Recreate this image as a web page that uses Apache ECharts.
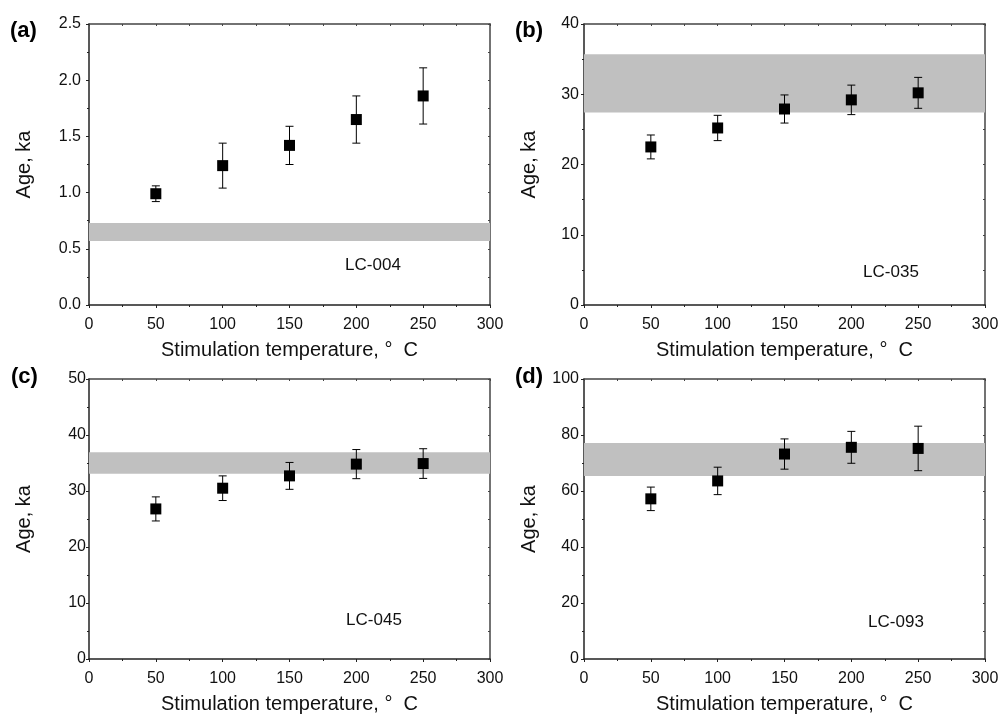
<!DOCTYPE html>
<html>
<head>
<meta charset="utf-8">
<script src="https://cdn.jsdelivr.net/npm/echarts@6/dist/echarts.min.js"></script>
<style>
html,body{margin:0;padding:0;background:#fff;}
#chart{width:1003px;height:718px;}
</style>
</head>
<body>
<div id="chart"></div>
<script>
// ---- data ----
var temps = [50, 100, 150, 200, 250];
var xTicks = [0, 50, 100, 150, 200, 250, 300];

var ageA = [0.99, 1.24, 1.42, 1.65, 1.86];
var errA = [0.07, 0.20, 0.17, 0.21, 0.25];
var bandA = [0.57, 0.73];

var ageB = [22.5, 25.2, 27.9, 29.2, 30.2];
var errB = [1.7, 1.8, 2.0, 2.1, 2.2];
var bandB = [27.4, 35.7];

var ageC = [26.8, 30.5, 32.7, 34.8, 34.9];
var errC = [2.15, 2.2, 2.4, 2.6, 2.65];
var bandC = [33.1, 36.9];

var ageD = [57.2, 63.6, 73.2, 75.6, 75.2];
var errD = [4.2, 4.9, 5.4, 5.7, 7.95];
var bandD = [65.4, 77.1];

var panelLetters = ['(a)', '(b)', '(c)', '(d)'];
var sampleNames = ['LC-004', 'LC-035', 'LC-045', 'LC-093'];
var yTicksA = [0, 0.5, 1.0, 1.5, 2.0, 2.5];
var yTicksB = [0, 10, 20, 30, 40];
var yTicksC = [0, 10, 20, 30, 40, 50];
var yTicksD = [0, 20, 40, 60, 80, 100];

var xTitle = 'Stimulation temperature, \u00b0  C';
var yTitle = 'Age, ka';

// ---- layout ----
var FONT = 'Liberation Sans, Arial, Helvetica, sans-serif';
var panels = [
  {age: ageA, err: errA, band: bandA, yt: yTicksA, dec: 1, grid: {left: 89, top: 24, width: 401, height: 281}, ygap: 55, ymargin: 8,
   letter: [10, 31], label: [373, 265]},
  {age: ageB, err: errB, band: bandB, yt: yTicksB, dec: 0, grid: {left: 584, top: 24, width: 401, height: 281}, ygap: 45, ymargin: 5,
   letter: [515, 31], label: [891, 272]},
  {age: ageC, err: errC, band: bandC, yt: yTicksC, dec: 0, grid: {left: 89, top: 379, width: 401, height: 280}, ygap: 55, ymargin: 3,
   letter: [11, 377], label: [374, 620]},
  {age: ageD, err: errD, band: bandD, yt: yTicksD, dec: 0, grid: {left: 584, top: 379, width: 401, height: 280}, ygap: 45, ymargin: 5,
   letter: [515, 377], label: [896, 622]}
];

var grids = [], xAxes = [], yAxes = [], series = [], graphics = [];
var axisColor = '#222';

panels.forEach(function (p, i) {
  grids.push(Object.assign({containLabel: false}, p.grid));
  var xmin = xTicks[0], xmax = xTicks[xTicks.length - 1], xint = xTicks[1] - xTicks[0];
  var ymin = p.yt[0], ymax = p.yt[p.yt.length - 1], yint = p.yt[1] - p.yt[0];
  // bottom x
  xAxes.push({
    gridIndex: i, type: 'value', position: 'bottom', min: xmin, max: xmax, interval: xint,
    name: xTitle, nameLocation: 'middle', nameGap: 35,
    nameTextStyle: {fontFamily: FONT, fontSize: 20, color: '#111'},
    axisLine: {show: true, onZero: false, lineStyle: {color: axisColor, width: 1.5}},
    axisTick: {show: true, inside: false, length: 3, lineStyle: {color: axisColor}},
    minorTick: {show: true, splitNumber: 2, length: 2, lineStyle: {color: axisColor}},
    axisLabel: {fontFamily: FONT, fontSize: 16, color: '#111', margin: 12},
    splitLine: {show: false}
  });
  // top x (frame)
  xAxes.push({
    gridIndex: i, type: 'value', position: 'top', min: xmin, max: xmax, interval: xint,
    axisLine: {show: true, onZero: false, lineStyle: {color: '#444', width: 1.5}},
    axisTick: {show: true, inside: true, length: 2, lineStyle: {color: '#444'}},
    minorTick: {show: true, splitNumber: 2, length: 2, lineStyle: {color: '#444'}},
    axisLabel: {show: false}, splitLine: {show: false}
  });
  // left y
  yAxes.push({
    gridIndex: i, type: 'value', position: 'left', min: ymin, max: ymax, interval: yint,
    name: yTitle, nameLocation: 'middle', nameGap: p.ygap,
    nameTextStyle: {fontFamily: FONT, fontSize: 20, color: '#111'},
    axisLine: {show: true, onZero: false, lineStyle: {color: axisColor, width: 1.5}},
    axisTick: {show: true, inside: false, length: 3, lineStyle: {color: axisColor}},
    minorTick: {show: true, splitNumber: 2, length: 2, lineStyle: {color: axisColor}},
    axisLabel: {fontFamily: FONT, fontSize: 16, color: '#111', margin: p.ymargin,
      formatter: (function (d) { return function (v) { return v.toFixed(d); }; })(p.dec)},
    splitLine: {show: false}
  });
  // right y (frame)
  yAxes.push({
    gridIndex: i, type: 'value', position: 'right', min: ymin, max: ymax, interval: yint,
    axisLine: {show: true, onZero: false, lineStyle: {color: '#444', width: 1.5}},
    axisTick: {show: true, inside: true, length: 2, lineStyle: {color: '#444'}},
    minorTick: {show: true, splitNumber: 2, length: 2, lineStyle: {color: '#444'}},
    axisLabel: {show: false}, splitLine: {show: false}
  });

  var pts = temps.map(function (t, j) { return [t, p.age[j], p.err[j]]; });

  // band (shaded range) carried by an empty line series
  series.push({
    type: 'line', xAxisIndex: 2 * i, yAxisIndex: 2 * i, data: [], silent: true,
    markArea: {
      silent: true,
      itemStyle: {color: '#c0c0c0', opacity: 1},
      data: [[{yAxis: p.band[0]}, {yAxis: p.band[1]}]]
    },
    z: 1
  });
  // error bars
  series.push({
    type: 'custom', xAxisIndex: 2 * i, yAxisIndex: 2 * i, data: pts, z: 3, silent: true,
    encode: {x: 0, y: 1},
    renderItem: function (params, api) {
      var x = api.value(0), y = api.value(1), e = api.value(2);
      var top = api.coord([x, y + e]);
      var bot = api.coord([x, y - e]);
      var w = 4;
      var st = {stroke: '#000', lineWidth: 1};
      return {
        type: 'group',
        children: [
          {type: 'line', shape: {x1: top[0], y1: top[1], x2: bot[0], y2: bot[1]}, style: st},
          {type: 'line', shape: {x1: top[0] - w, y1: top[1], x2: top[0] + w, y2: top[1]}, style: st},
          {type: 'line', shape: {x1: bot[0] - w, y1: bot[1], x2: bot[0] + w, y2: bot[1]}, style: st}
        ]
      };
    }
  });
  // points
  series.push({
    type: 'scatter', xAxisIndex: 2 * i, yAxisIndex: 2 * i, z: 4, silent: true,
    data: pts.map(function (d) { return [d[0], d[1]]; }),
    symbol: 'rect', symbolSize: 11, itemStyle: {color: '#000', opacity: 1}
  });

  graphics.push({
    type: 'text', x: p.letter[0], y: p.letter[1],
    style: {text: panelLetters[i], font: 'bold 22px ' + FONT, fill: '#000', textAlign: 'left', textVerticalAlign: 'middle'}
  });
  graphics.push({
    type: 'text', x: p.label[0], y: p.label[1],
    style: {text: sampleNames[i], font: '17px ' + FONT, fill: '#111', textAlign: 'center', textVerticalAlign: 'middle'}
  });
});

var chart = echarts.init(document.getElementById('chart'), null, {renderer: 'canvas'});
chart.setOption({
  animation: false,
  backgroundColor: '#fff',
  grid: grids,
  xAxis: xAxes,
  yAxis: yAxes,
  series: series,
  graphic: graphics
});
</script>
</body>
</html>
